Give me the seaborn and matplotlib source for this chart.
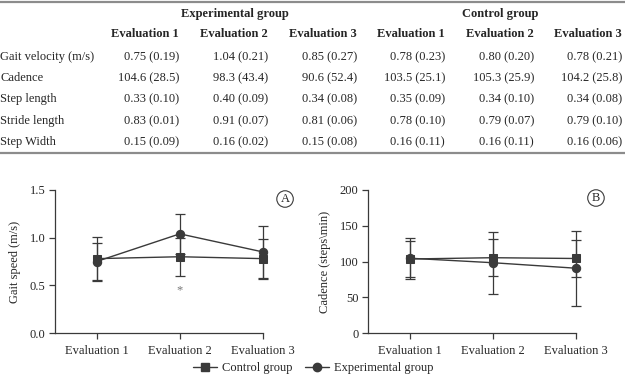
import numpy as np
import pandas as pd
import matplotlib
matplotlib.use("Agg")
import matplotlib.pyplot as plt
from matplotlib.lines import Line2D
import seaborn as sns

# ---------------- data ----------------
evaluations = ["Evaluation 1", "Evaluation 2", "Evaluation 3"]
groups = ["Experimental group", "Control group"]
parameters = ["Gait velocity (m/s)", "Cadence", "Step length", "Stride length", "Step Width"]
decimals = [2, 1, 2, 2, 2]

exp_gait_mean = [0.75, 1.04, 0.85]
exp_gait_sd = [0.19, 0.21, 0.27]
exp_cad_mean = [104.6, 98.3, 90.6]
exp_cad_sd = [28.5, 43.4, 52.4]
exp_step_mean = [0.33, 0.40, 0.34]
exp_step_sd = [0.10, 0.09, 0.08]
exp_stride_mean = [0.83, 0.91, 0.81]
exp_stride_sd = [0.01, 0.07, 0.06]
exp_width_mean = [0.15, 0.16, 0.15]
exp_width_sd = [0.09, 0.02, 0.08]

ctl_gait_mean = [0.78, 0.80, 0.78]
ctl_gait_sd = [0.23, 0.20, 0.21]
ctl_cad_mean = [103.5, 105.3, 104.2]
ctl_cad_sd = [25.1, 25.9, 25.8]
ctl_step_mean = [0.35, 0.34, 0.34]
ctl_step_sd = [0.09, 0.10, 0.08]
ctl_stride_mean = [0.78, 0.79, 0.79]
ctl_stride_sd = [0.10, 0.07, 0.10]
ctl_width_mean = [0.16, 0.16, 0.16]
ctl_width_sd = [0.11, 0.11, 0.06]

exp_rows = [(exp_gait_mean, exp_gait_sd), (exp_cad_mean, exp_cad_sd), (exp_step_mean, exp_step_sd),
            (exp_stride_mean, exp_stride_sd), (exp_width_mean, exp_width_sd)]
ctl_rows = [(ctl_gait_mean, ctl_gait_sd), (ctl_cad_mean, ctl_cad_sd), (ctl_step_mean, ctl_step_sd),
            (ctl_stride_mean, ctl_stride_sd), (ctl_width_mean, ctl_width_sd)]

# ---------------- style ----------------
sns.set_theme(style="ticks")
plt.rcParams['font.family'] = ['Liberation Serif', 'DejaVu Serif']
TXT = "#262626"
LINE = "#3a3a3a"
plt.rcParams.update({
    "axes.edgecolor": LINE, "axes.linewidth": 0.9,
    "xtick.color": LINE, "ytick.color": LINE,
    "xtick.labelcolor": TXT, "ytick.labelcolor": TXT,
    "xtick.major.size": 4, "ytick.major.size": 4,
    "xtick.major.width": 0.9, "ytick.major.width": 0.9,
    "xtick.labelsize": 9, "ytick.labelsize": 9,
})

W, H = 625, 378
fig = plt.figure(figsize=(W / 100, H / 100), dpi=100)
fig.patch.set_facecolor("white")

def fx(px):
    return px / W

def fy(py):
    return 1 - py / H

# ---------------- table ----------------
fs = 9
fig.add_artist(Line2D([0, 1], [fy(2), fy(2)], color="#8c8c8c", lw=1.6, transform=fig.transFigure))
fig.add_artist(Line2D([0, 1], [fy(153), fy(153)], color="#8c8c8c", lw=1.6, transform=fig.transFigure))

col_right = [179, 268, 357, 445, 534, 622]
group_centers = [234.5, 500]
for g, cx in zip(groups, group_centers):
    fig.text(fx(cx), fy(14), g, ha="center", va="center", fontsize=fs, fontweight="bold", color=TXT)
for i, xr in enumerate(col_right):
    fig.text(fx(xr), fy(34), evaluations[i % 3], ha="right", va="center", fontsize=fs,
             fontweight="bold", color=TXT)

row_y = [57, 78, 99, 121, 142]
for r, (name, yy) in enumerate(zip(parameters, row_y)):
    fig.text(fx(0.5), fy(yy), name, ha="left", va="center", fontsize=fs, color=TXT)
    d = decimals[r]
    cells = []
    for rows in (exp_rows, ctl_rows):
        m, s = rows[r]
        for k in range(3):
            cells.append(f"{m[k]:.{d}f} ({s[k]:.{d}f})")
    for xr, c in zip(col_right, cells):
        fig.text(fx(xr), fy(yy), c, ha="right", va="center", fontsize=fs, color=TXT)

# ---------------- plots ----------------
pos = np.arange(len(evaluations))
df = pd.DataFrame({
    "pos": np.concatenate([pos, pos]),
    "group": ["Experimental group"] * 3 + ["Control group"] * 3,
    "speed": exp_gait_mean + ctl_gait_mean,
    "speed_sd": exp_gait_sd + ctl_gait_sd,
    "cadence": exp_cad_mean + ctl_cad_mean,
    "cadence_sd": exp_cad_sd + ctl_cad_sd,
})

markers = {"Control group": "s", "Experimental group": "o"}
palette = {"Control group": LINE, "Experimental group": LINE}

ax1 = fig.add_axes([fx(55), 45 / H, 208 / W, 143 / H])
ax2 = fig.add_axes([fx(368), 45 / H, 208 / W, 143 / H])

specs = [
    (ax1, "speed", "Gait speed (m/s)", [0.0, 0.5, 1.0, 1.5], (0, 1.5), "A", "{:.1f}", (1.106, 0.937)),
    (ax2, "cadence", "Cadence (steps\\min)", [0, 50, 100, 150, 200], (0, 200), "B", "{:.0f}", (1.096, 0.944)),
]

for ax, col, ylabel, yticks, ylim, letter, fmt, lpos in specs:
    for g in ["Experimental group", "Control group"]:
        sub = df[df.group == g]
        eb = ax.errorbar(sub["pos"], sub[col], yerr=sub[col + "_sd"], fmt="none",
                         ecolor=LINE, elinewidth=0.9, capsize=3.5, capthick=0.9, zorder=2)
        for art in eb.get_children():
            art.set_clip_on(False)
    sns.lineplot(data=df, x="pos", y=col, hue="group", style="group",
                 hue_order=["Experimental group", "Control group"],
                 style_order=["Experimental group", "Control group"],
                 markers=markers, dashes=False, palette=palette, markersize=6,
                 markeredgecolor=LINE, linewidth=1.0, legend=False, ax=ax, zorder=3,
                 clip_on=False)
    ax.set_xlim(-0.5, 2.0)
    ax.set_ylim(*ylim)
    ax.set_xticks(pos)
    ax.set_xticklabels(evaluations)
    ax.set_yticks(yticks)
    ax.set_yticklabels([fmt.format(t) for t in yticks])
    ax.set_xlabel("")
    ax.set_ylabel(ylabel, fontsize=9, color=TXT, labelpad=6)
    ax.tick_params(axis="x", pad=5)
    ax.tick_params(axis="y", pad=3)
    sns.despine(ax=ax)
    ax.set_facecolor("white")
    ax.text(lpos[0], lpos[1], letter,
            transform=ax.transAxes, ha="center", va="center", fontsize=9, color=TXT,
            bbox=dict(boxstyle="circle,pad=0.18", fc="white", ec=LINE, lw=0.8), clip_on=False)

ax1.text(1, 0.45, "*", ha="center", va="center", color="#777777", fontsize=9)

handles = [Line2D([], [], color=LINE, marker="s", markersize=6, lw=1.0),
           Line2D([], [], color=LINE, marker="o", markersize=6, lw=1.0)]
fig.legend(handles, ["Control group", "Experimental group"], loc="center",
           bbox_to_anchor=(fx(313), fy(368)), ncol=2, frameon=False, fontsize=9,
           handlelength=1.9, handletextpad=0.4, columnspacing=1.0, labelcolor=TXT,
           borderpad=0, borderaxespad=0)

fig.savefig("out.png", dpi=100, facecolor="white")
